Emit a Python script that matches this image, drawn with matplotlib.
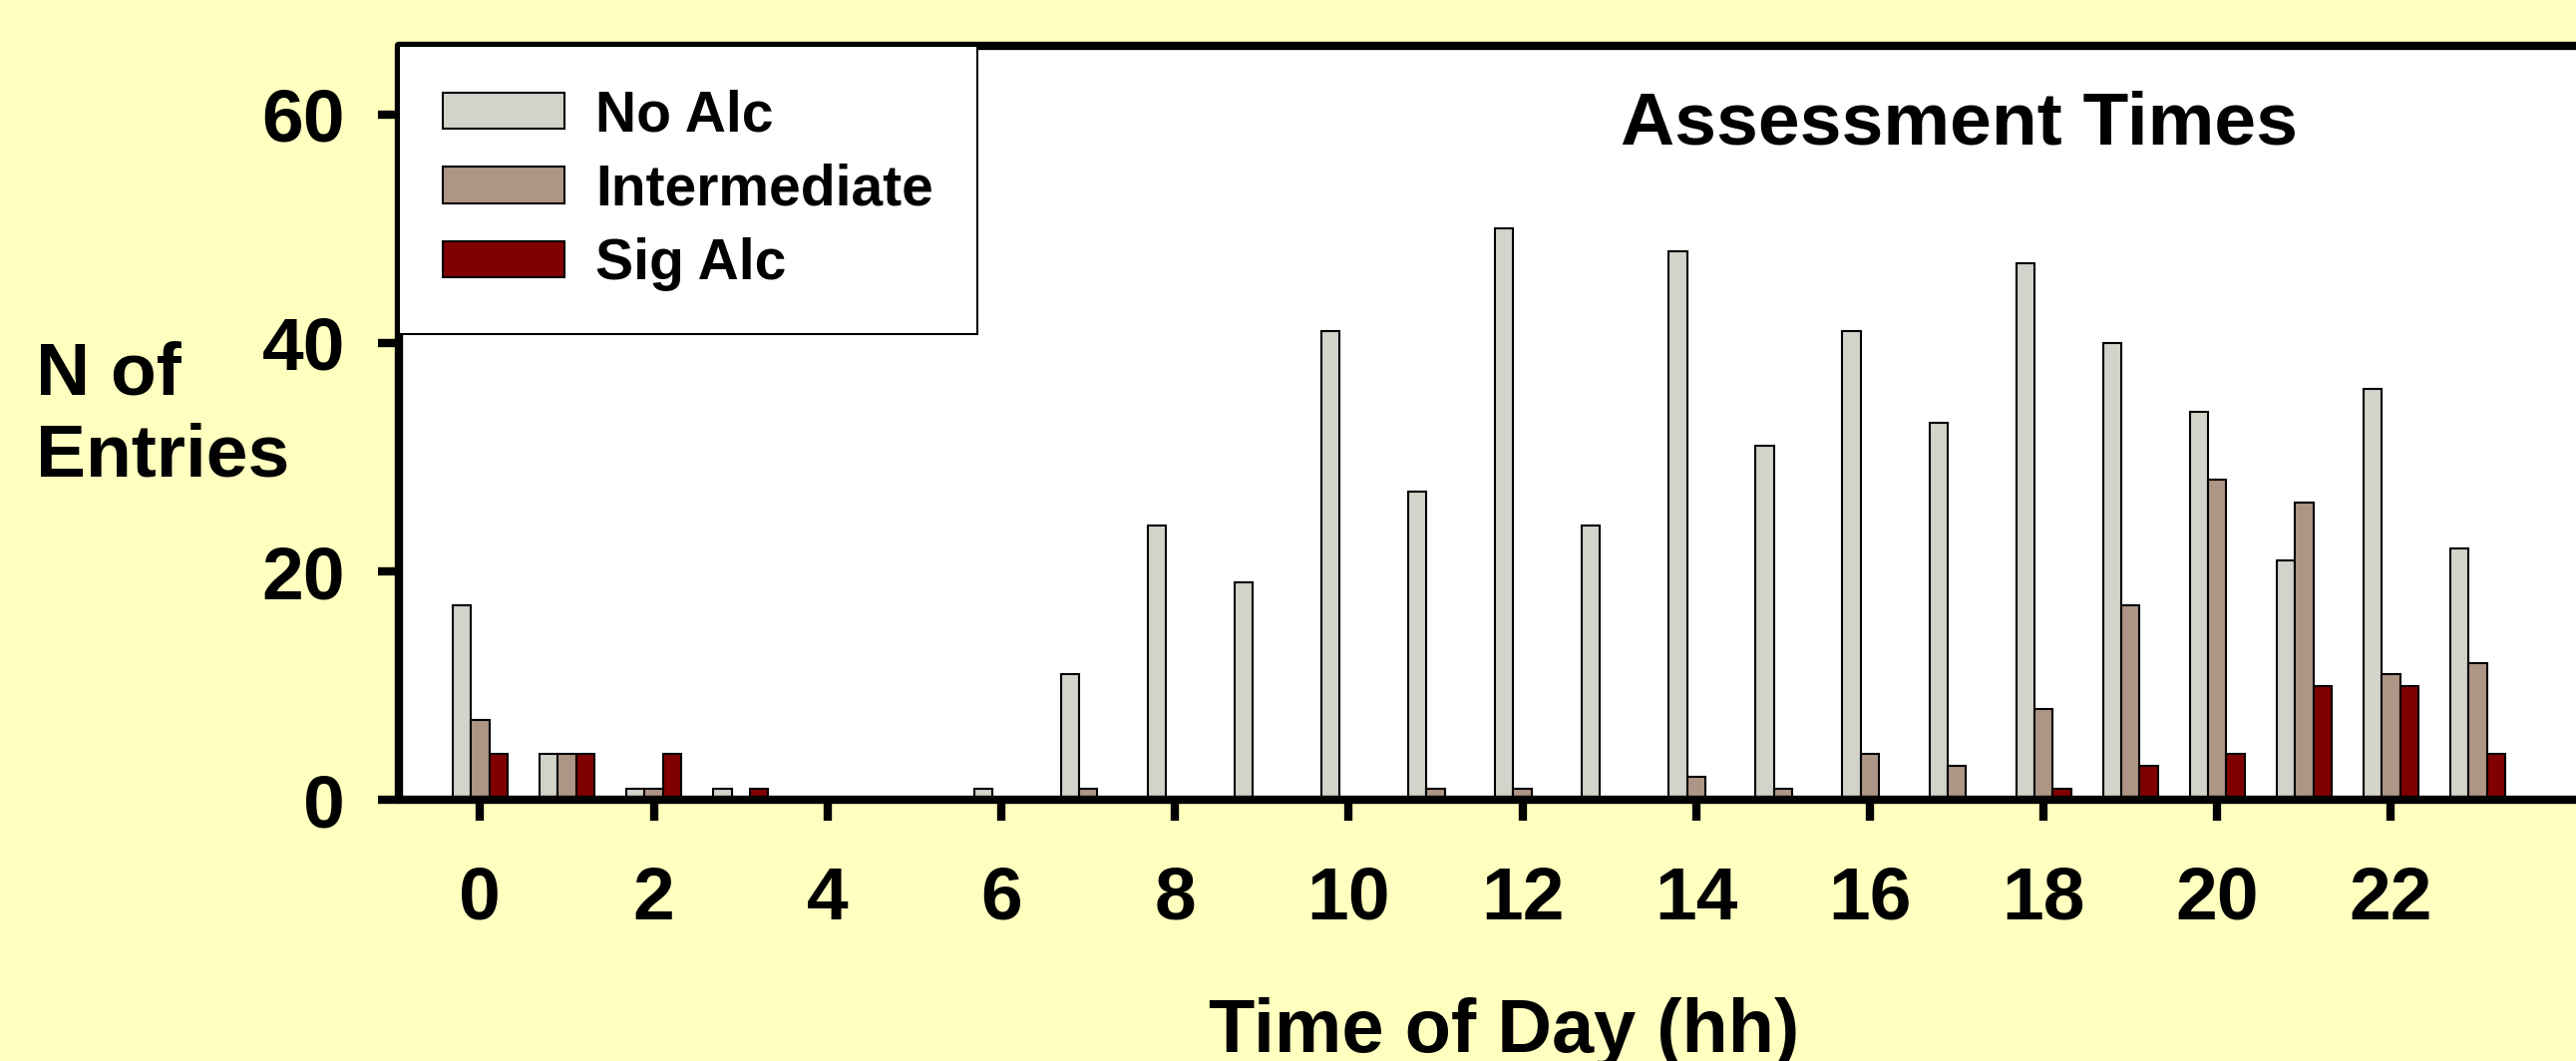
import matplotlib
matplotlib.use("Agg")
import matplotlib.pyplot as plt
import numpy as np

# Data
hours = list(range(24))
no_alc = [17, 4, 1, 1, 0, 0, 1, 11, 24, 19, 41, 27, 50, 24, 48, 31, 41, 33, 47, 40, 34, 21, 36, 22]
intermediate = [7, 4, 1, 0, 0, 0, 0, 1, 0, 0, 0, 1, 1, 0, 2, 1, 4, 3, 8, 17, 28, 26, 11, 12]
sig_alc = [4, 4, 4, 1, 0, 0, 0, 0, 0, 0, 0, 0, 0, 0, 0, 0, 0, 0, 1, 3, 4, 10, 10, 4]
x_ticks = list(range(0, 24, 2))
y_ticks = [0, 20, 40, 60]

plt.rcParams['font.family'] = 'Liberation Sans'
plt.rcParams['font.weight'] = 'bold'

bg = '#FFFFC0'
fig = plt.figure(figsize=(25.83, 10.64), dpi=100, facecolor=bg)
ax = fig.add_axes([0.155, 0.246, 0.845, 0.711])
ax.set_facecolor('white')

x = np.array(hours)
w = 0.21
ax.bar(x - w, no_alc, w, color='#D3D3CB', edgecolor='black', linewidth=1.5, label='No Alc')
ax.bar(x, intermediate, w, color='#AE9686', edgecolor='black', linewidth=1.5, label='Intermediate')
ax.bar(x + w, sig_alc, w, color='#800000', edgecolor='black', linewidth=1.5, label='Sig Alc')

ax.set_xlim(-0.93, 24.13)
ax.set_ylim(0, 66)
ax.set_xticks(x_ticks)
ax.set_yticks(y_ticks)

for s in ['left', 'top', 'bottom']:
    ax.spines[s].set_linewidth(6)
    ax.spines[s].set_capstyle('round')
ax.spines['right'].set_visible(False)

ax.tick_params(axis='x', direction='out', length=15, width=6, pad=32, labelsize=54)
ax.tick_params(axis='y', direction='out', length=15, width=6, pad=24, labelsize=54)
for t in ax.get_xticklabels() + ax.get_yticklabels():
    t.set_fontweight('bold')

# legend box sits in the upper-left corner of the axes
leg = ax.legend(loc='upper left', bbox_to_anchor=(0, 1), borderaxespad=0,
                fontsize=41, frameon=True, fancybox=False, framealpha=1,
                edgecolor='black', handlelength=2.15, handleheight=0.62,
                handletextpad=0.55, labelspacing=0.36, borderpad=0.76)
leg.get_frame().set_linewidth(1.5)
for t in leg.get_texts():
    t.set_fontweight('bold')

ax.text(17.03, 57.4, 'Assessment Times', ha='center', va='baseline', fontsize=54, fontweight='bold')

# y label written as two lines, placed left of the tick labels
fig.text(0.014, 0.628, 'N of', ha='left', va='baseline', fontsize=54, fontweight='bold')
fig.text(0.014, 0.551, 'Entries', ha='left', va='baseline', fontsize=54, fontweight='bold')
fig.text(0.584, 0.008, 'Time of Day (hh)', ha='center', va='baseline', fontsize=54.5,
         fontweight='bold')

fig.savefig('out.png', dpi=100, facecolor=bg)
